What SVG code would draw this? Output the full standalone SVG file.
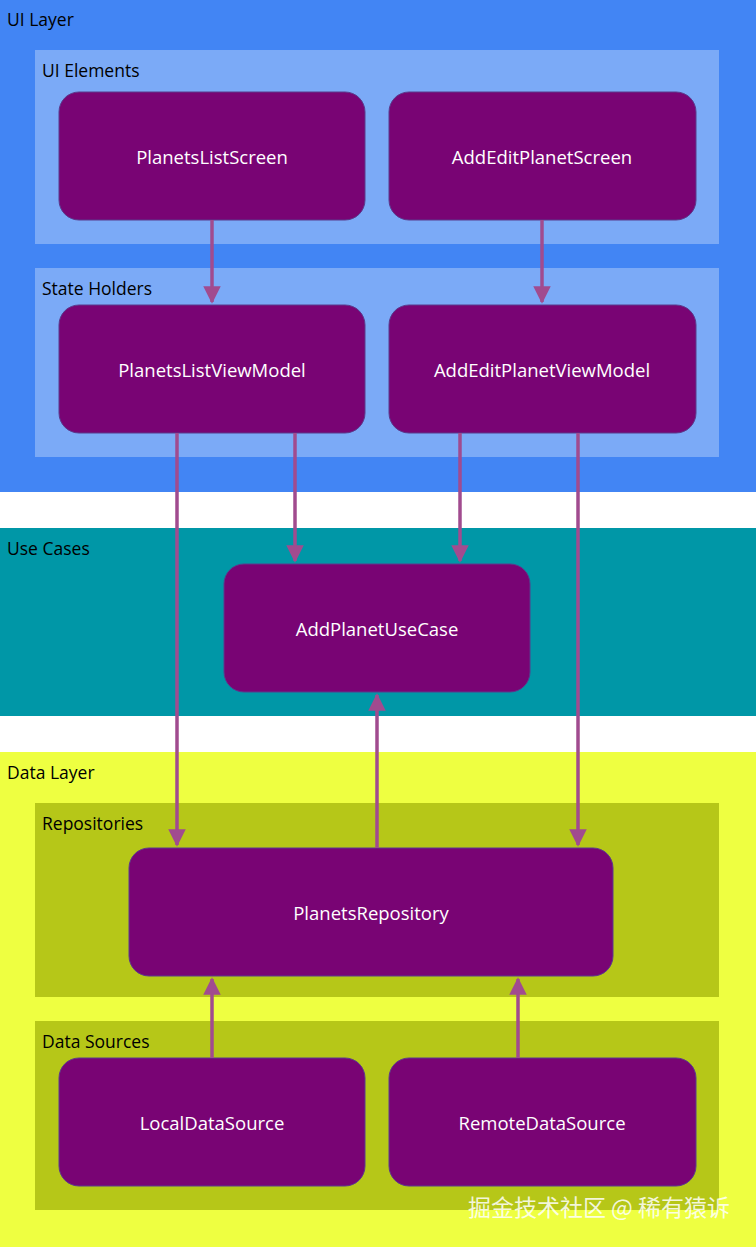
<svg xmlns="http://www.w3.org/2000/svg" width="756" height="1247" viewBox="0 0 756 1247">
<defs>
<style>
.t{font-family:"Open Sans","Noto Sans",sans-serif;font-size:17.5px;fill:#000}
.n rect{fill:#790474;stroke:#5b3a8c;stroke-width:1}
.n text{font-family:"Open Sans","Noto Sans",sans-serif;font-size:18.5px;fill:#fff;text-anchor:middle;dominant-baseline:central}
.sub{fill:#7baaf7}
.sub2{fill:#b6c718}
#edges line{stroke:#a14b8f;stroke-width:3.5}
</style>
<marker id="a" viewBox="0 0 10 10" refX="9" refY="5" markerWidth="5" markerHeight="5" orient="auto" markerUnits="strokeWidth"><path d="M0,0L10,5L0,10z" fill="#a14b8f"/></marker>
</defs>
<rect width="756" height="1247" fill="#fff"/>
<rect x="0" y="0" width="756" height="492" fill="#4285f4"/>
<text class="t" x="7" y="26">UI Layer</text>
<rect class="sub" x="35" y="50" width="684" height="194"/>
<text class="t" x="42" y="77">UI Elements</text>
<rect class="sub" x="35" y="268" width="684" height="189"/>
<text class="t" x="42" y="295">State Holders</text>
<rect x="0" y="528" width="756" height="188" fill="#0097a7"/>
<text class="t" x="7" y="555">Use Cases</text>
<rect x="0" y="752" width="756" height="495" fill="#eeff41"/>
<text class="t" x="7" y="779">Data Layer</text>
<rect class="sub2" x="35" y="803" width="684" height="194"/>
<text class="t" x="42" y="830">Repositories</text>
<rect class="sub2" x="35" y="1021" width="684" height="189"/>
<text class="t" x="42" y="1048">Data Sources</text>
<g id="PlanetsListScreen" class="n"><rect x="59" y="92" width="306" height="128" rx="20"/><text x="212" y="156">PlanetsListScreen</text></g>
<g id="AddEditPlanetScreen" class="n"><rect x="389" y="92" width="307" height="128" rx="20"/><text x="542" y="156">AddEditPlanetScreen</text></g>
<g id="PlanetsListViewModel" class="n"><rect x="59" y="305" width="306" height="128" rx="20"/><text x="212" y="369">PlanetsListViewModel</text></g>
<g id="AddEditPlanetViewModel" class="n"><rect x="389" y="305" width="307" height="128" rx="20"/><text x="542" y="369">AddEditPlanetViewModel</text></g>
<g id="AddPlanetUseCase" class="n"><rect x="224" y="564" width="306" height="128" rx="20"/><text x="377" y="628">AddPlanetUseCase</text></g>
<g id="PlanetsRepository" class="n"><rect x="129" y="848" width="484" height="128" rx="20"/><text x="371" y="912">PlanetsRepository</text></g>
<g id="LocalDataSource" class="n"><rect x="59" y="1058" width="306" height="128" rx="20"/><text x="212" y="1122">LocalDataSource</text></g>
<g id="RemoteDataSource" class="n"><rect x="389" y="1058" width="307" height="128" rx="20"/><text x="542" y="1122">RemoteDataSource</text></g>
<g id="edges">
<line x1="212" y1="220" x2="212" y2="302" marker-end="url(#a)"/>
<line x1="542" y1="220" x2="542" y2="302" marker-end="url(#a)"/>
<line x1="177" y1="433" x2="177" y2="845" marker-end="url(#a)"/>
<line x1="295" y1="433" x2="295" y2="561" marker-end="url(#a)"/>
<line x1="460" y1="433" x2="460" y2="561" marker-end="url(#a)"/>
<line x1="578" y1="433" x2="578" y2="845" marker-end="url(#a)"/>
<line x1="377" y1="848" x2="377" y2="695" marker-end="url(#a)"/>
<line x1="212" y1="1058" x2="212" y2="979" marker-end="url(#a)"/>
<line x1="518" y1="1058" x2="518" y2="979" marker-end="url(#a)"/>
</g>
<text x="730" y="1216" text-anchor="end" style="font-family:'Noto Sans CJK SC',sans-serif;font-size:23px;fill:#fff;fill-opacity:0.85">掘金技术社区 @ 稀有猿诉</text>
</svg>
